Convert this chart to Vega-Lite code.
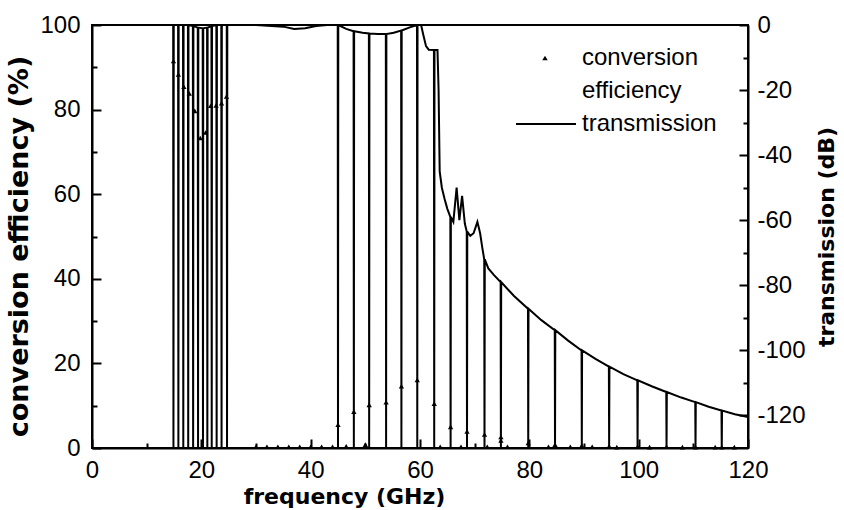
{
  "$schema": "https://vega.github.io/schema/vega-lite/v6.json",
  "width": 656,
  "height": 423,
  "autosize": {"type": "none"},
  "padding": {"left": 92, "top": 25, "right": 96, "bottom": 62},
  "background": "white",
  "config": {
    "view": {"stroke": "black", "strokeWidth": 2},
    "axis": {
      "labelFont": "Liberation Sans", "labelFontSize": 24, "labelColor": "black",
      "titleFont": "DejaVu Sans", "titleFontSize": 22, "titleFontWeight": "bold", "titleColor": "black",
      "domainColor": "black", "domainWidth": 2, "tickColor": "black", "tickWidth": 2,
      "grid": false, "labelOverlap": false, "labelFlush": false
    },
    "legend": {"labelFont": "Liberation Sans", "labelFontSize": 24, "labelColor": "black", "padding": 0}
  },
  "datasets": {
    "transmission": [
      {"f": 0, "t": 0},
      {"f": 14.85, "t": 0}, {"f": 14.9, "t": -130}, {"f": 14.95, "t": 0},
      {"f": 15.75, "t": 0}, {"f": 15.8, "t": -130}, {"f": 15.85, "t": 0},
      {"f": 16.65, "t": 0}, {"f": 16.7, "t": -130}, {"f": 16.75, "t": 0},
      {"f": 17.55, "t": 0}, {"f": 17.6, "t": -130}, {"f": 17.65, "t": 0},
      {"f": 18.45, "t": -0.3}, {"f": 18.5, "t": -130}, {"f": 18.55, "t": -0.3},
      {"f": 19.35, "t": -0.8}, {"f": 19.4, "t": -130}, {"f": 19.45, "t": -0.8},
      {"f": 20.25, "t": -1}, {"f": 20.3, "t": -130}, {"f": 20.35, "t": -1},
      {"f": 21.05, "t": -0.8}, {"f": 21.1, "t": -130}, {"f": 21.15, "t": -0.8},
      {"f": 21.85, "t": -0.3}, {"f": 21.9, "t": -130}, {"f": 21.95, "t": -0.3},
      {"f": 22.75, "t": 0}, {"f": 22.8, "t": -130}, {"f": 22.85, "t": 0},
      {"f": 23.65, "t": 0}, {"f": 23.7, "t": -130}, {"f": 23.75, "t": 0},
      {"f": 24.65, "t": 0}, {"f": 24.7, "t": -130}, {"f": 24.75, "t": 0},
      {"f": 30, "t": 0}, {"f": 35, "t": -0.5}, {"f": 37, "t": -1.2}, {"f": 39, "t": -1},
      {"f": 41, "t": -0.3}, {"f": 43, "t": 0},
      {"f": 44.95, "t": 0}, {"f": 45, "t": -130}, {"f": 45.05, "t": 0},
      {"f": 46.5, "t": -1.2},
      {"f": 47.85, "t": -1.9}, {"f": 47.9, "t": -130}, {"f": 47.95, "t": -1.9},
      {"f": 49.5, "t": -2.4},
      {"f": 50.65, "t": -2.6}, {"f": 50.7, "t": -130}, {"f": 50.75, "t": -2.6},
      {"f": 52.3, "t": -2.8},
      {"f": 53.75, "t": -2.8}, {"f": 53.8, "t": -130}, {"f": 53.85, "t": -2.8},
      {"f": 55.2, "t": -2.4},
      {"f": 56.55, "t": -1.7}, {"f": 56.6, "t": -130}, {"f": 56.65, "t": -1.7},
      {"f": 58, "t": -0.8},
      {"f": 59.45, "t": 0}, {"f": 59.5, "t": -130}, {"f": 59.55, "t": 0},
      {"f": 60.2, "t": 0}, {"f": 60.6, "t": -3}, {"f": 61.1, "t": -6.5}, {"f": 61.6, "t": -7.6},
      {"f": 62.55, "t": -7.7}, {"f": 62.6, "t": -130}, {"f": 62.65, "t": -7.7},
      {"f": 63.2, "t": -7.7}, {"f": 63.4, "t": -20}, {"f": 63.6, "t": -45}, {"f": 64.0, "t": -50},
      {"f": 64.5, "t": -53.5}, {"f": 65.0, "t": -56.5},
      {"f": 65.55, "t": -59}, {"f": 65.6, "t": -130}, {"f": 65.65, "t": -59},
      {"f": 66.1, "t": -60.5}, {"f": 66.7, "t": -50}, {"f": 67.2, "t": -60}, {"f": 67.7, "t": -52.5},
      {"f": 68.2, "t": -61},
      {"f": 68.55, "t": -63.5}, {"f": 68.6, "t": -130}, {"f": 68.65, "t": -63.5},
      {"f": 69.2, "t": -64.8}, {"f": 69.8, "t": -64}, {"f": 70.5, "t": -60.5}, {"f": 71.0, "t": -64},
      {"f": 71.4, "t": -68.5},
      {"f": 71.75, "t": -72}, {"f": 71.8, "t": -130}, {"f": 71.85, "t": -72},
      {"f": 72.5, "t": -74.8}, {"f": 73.5, "t": -76.8},
      {"f": 74.75, "t": -79}, {"f": 74.8, "t": -130}, {"f": 74.85, "t": -79},
      {"f": 77.2, "t": -83.3},
      {"f": 79.75, "t": -87.2}, {"f": 79.8, "t": -130}, {"f": 79.85, "t": -87.2},
      {"f": 82.2, "t": -90.7},
      {"f": 84.65, "t": -93.8}, {"f": 84.7, "t": -130}, {"f": 84.75, "t": -93.8},
      {"f": 87.1, "t": -97},
      {"f": 89.55, "t": -100}, {"f": 89.6, "t": -130}, {"f": 89.65, "t": -100},
      {"f": 92.1, "t": -102.6},
      {"f": 94.55, "t": -105}, {"f": 94.6, "t": -130}, {"f": 94.65, "t": -105},
      {"f": 97.2, "t": -107.3},
      {"f": 99.75, "t": -109.2}, {"f": 99.8, "t": -130}, {"f": 99.85, "t": -109.2},
      {"f": 102.5, "t": -111.1},
      {"f": 105.05, "t": -112.8}, {"f": 105.1, "t": -130}, {"f": 105.15, "t": -112.8},
      {"f": 107.8, "t": -114.5},
      {"f": 110.35, "t": -115.9}, {"f": 110.4, "t": -130}, {"f": 110.45, "t": -115.9},
      {"f": 112.8, "t": -117.3},
      {"f": 115.15, "t": -118.5}, {"f": 115.2, "t": -130}, {"f": 115.25, "t": -118.5},
      {"f": 117.6, "t": -119.6},
      {"f": 120, "t": -120.5}
    ],
    "efficiency": [
      {"f": 14.9, "e": 91.5}, {"f": 15.8, "e": 88.3}, {"f": 16.8, "e": 85.4}, {"f": 17.8, "e": 83.8},
      {"f": 18.8, "e": 79.7}, {"f": 19.8, "e": 73.3}, {"f": 20.8, "e": 74.6}, {"f": 21.7, "e": 80.9},
      {"f": 22.7, "e": 81.0}, {"f": 23.7, "e": 81.5}, {"f": 24.6, "e": 83.1},
      {"f": 30, "e": 0.3}, {"f": 32, "e": 0.3}, {"f": 34, "e": 0.3}, {"f": 36, "e": 0.3},
      {"f": 38, "e": 0.3}, {"f": 40, "e": 0.3}, {"f": 42, "e": 0.3}, {"f": 44, "e": 0.3},
      {"f": 45.0, "e": 5.5}, {"f": 46.5, "e": 0.4}, {"f": 47.9, "e": 8.6}, {"f": 50.0, "e": 0.8},
      {"f": 50.7, "e": 10.2}, {"f": 53.8, "e": 10.8}, {"f": 56.6, "e": 14.6}, {"f": 59.5, "e": 16.1},
      {"f": 62.6, "e": 10.5}, {"f": 63.7, "e": 0.3}, {"f": 65.6, "e": 5.0}, {"f": 67.5, "e": 0.3},
      {"f": 68.6, "e": 3.9}, {"f": 71.8, "e": 3.2}, {"f": 72.3, "e": 0.3},
      {"f": 74.8, "e": 2.6}, {"f": 74.8, "e": 1.8}, {"f": 76, "e": 0.3},
      {"f": 79.8, "e": 1.2}, {"f": 83.5, "e": 0.3}, {"f": 84.7, "e": 0.8}, {"f": 87.5, "e": 0.3},
      {"f": 89.6, "e": 0.6}, {"f": 91.5, "e": 0.3}, {"f": 94.6, "e": 0.4}, {"f": 96, "e": 0.2},
      {"f": 99.8, "e": 0.3}, {"f": 102, "e": 0.2}, {"f": 105.1, "e": 0.3}, {"f": 108, "e": 0.2},
      {"f": 110.4, "e": 0.2}, {"f": 114, "e": 0.2}, {"f": 115.2, "e": 0.2}, {"f": 117.5, "e": 0.2}
    ]
  },
  "layer": [
    {
      "data": {"name": "transmission"},
      "mark": {"type": "line", "color": "black", "strokeWidth": 2, "clip": true},
      "encoding": {
        "x": {
          "field": "f", "type": "quantitative",
          "scale": {"domain": [0, 120], "nice": false, "zero": false},
          "axis": {
            "orient": "bottom", "title": "frequency (GHz)",
            "values": [0, 10, 20, 30, 40, 50, 60, 70, 80, 90, 100, 110, 120],
            "labelExpr": "datum.value % 20 === 0 ? datum.label : ''",
            "tickSize": {"condition": {"test": "datum.value % 20 === 0", "value": -9}, "value": -5},
            "labelPadding": 19,
            "titleX": 252, "titleY": 55, "titleAlign": "center", "titleBaseline": "alphabetic", "titleAnchor": null
          }
        },
        "y": {
          "field": "t", "type": "quantitative",
          "scale": {"domain": [-130, 0], "nice": false, "zero": false},
          "axis": {
            "orient": "right", "title": "transmission (dB)",
            "values": [0, -10, -20, -30, -40, -50, -60, -70, -80, -90, -100, -110, -120],
            "labelExpr": "datum.value % 20 === 0 ? '' + datum.value : ''",
            "tickSize": {"condition": {"test": "datum.value % 20 === 0", "value": -9}, "value": -5},
            "labelPadding": 18, "titleAngle": 270, "titleBaseline": "top", "titlePadding": 11
          }
        },
        "color": {
          "datum": "transmission",
          "scale": {"range": ["black"]},
          "legend": {
            "title": null, "orient": "none", "legendX": 423, "legendY": 68,
            "symbolType": "stroke", "symbolSize": 3600, "symbolStrokeWidth": 2,
            "labelOffset": 5
          }
        }
      }
    },
    {
      "data": {"name": "efficiency"},
      "mark": {"type": "point", "filled": true, "color": "black", "size": 28, "opacity": 1},
      "encoding": {
        "x": {"field": "f", "type": "quantitative"},
        "y": {
          "field": "e", "type": "quantitative",
          "scale": {"domain": [0, 100], "nice": false, "zero": false},
          "axis": {
            "orient": "left", "title": "conversion efficiency (%)",
            "values": [0, 10, 20, 30, 40, 50, 60, 70, 80, 90, 100],
            "labelExpr": "datum.value % 20 === 0 ? datum.label : ''",
            "tickSize": {"condition": {"test": "datum.value % 20 === 0", "value": -9}, "value": -5},
            "labelPadding": 21, "titlePadding": 6, "titleFontSize": 27,
            "titleY": 221, "titleAlign": "center", "titleAnchor": null
          }
        },
        "shape": {
          "datum": "conversion",
          "scale": {"domain": ["conversion", "efficiency"], "range": ["triangle-up", "M0,0Z"]},
          "legend": {
            "title": null, "orient": "none", "legendX": 441, "legendY": 21,
            "symbolSize": 30, "symbolFillColor": "black", "symbolStrokeColor": "black",
            "labelOffset": 25, "labelBaseline": "middle", "rowPadding": 9
          }
        }
      }
    }
  ],
  "resolve": {"scale": {"y": "independent"}, "axis": {"y": "independent"}}
}
